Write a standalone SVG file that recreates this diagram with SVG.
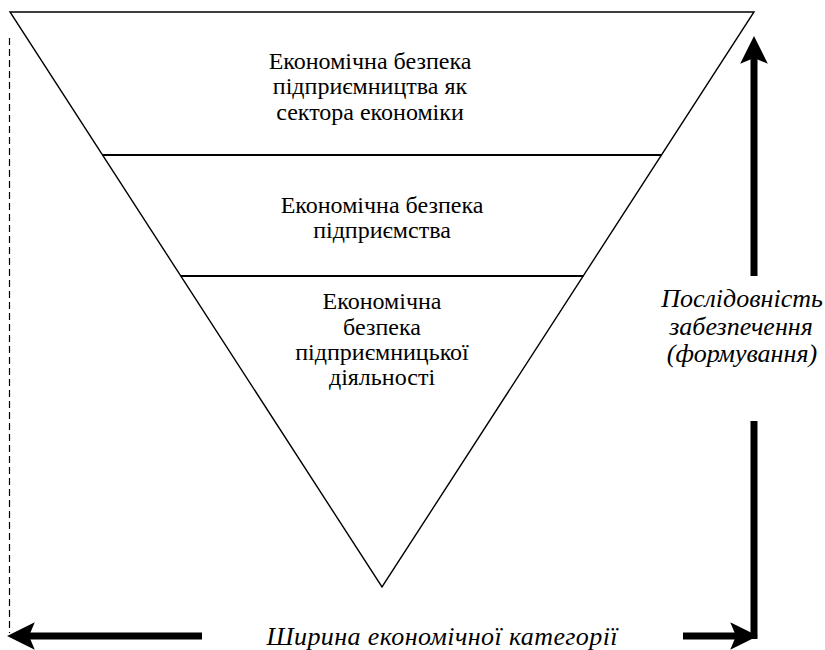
<svg xmlns="http://www.w3.org/2000/svg" width="825" height="650" viewBox="0 0 825 650">
<style>
.edge{fill:none;stroke:#000;stroke-width:1.4}
.div{stroke:#000;stroke-width:1.8}
.arr{stroke:#000;stroke-width:7;fill:none}
.dash{stroke:#000;stroke-width:1.2;stroke-dasharray:7 4;fill:none}
</style>
<defs>
<marker id="ah" markerUnits="userSpaceOnUse" orient="auto" refX="0" refY="0" markerWidth="30" markerHeight="30" viewBox="-6 -13 26 26" overflow="visible">
<path d="M19,0 L-5,-12 L0,0 L-5,12 Z" fill="#000"/>
</marker>
</defs>
<rect width="825" height="650" fill="#fff"/>
<g id="pyramid">
<polygon class="edge" points="10,12 754,12 382,587"/>
<line class="div" x1="102.5" y1="155" x2="661.5" y2="155"/>
<line class="div" x1="180.8" y1="276" x2="583.2" y2="276"/>
</g>
<g id="level1" font-family="'Liberation Serif', serif" font-size="24" fill="#000" text-anchor="middle">
<text x="370" y="69">Економічна безпека</text>
<text x="370" y="94">підприємництва як</text>
<text x="370" y="120">сектора економіки</text>
</g>
<g id="level2" font-family="'Liberation Serif', serif" font-size="24" fill="#000" text-anchor="middle">
<text x="382" y="213">Економічна безпека</text>
<text x="382" y="238">підприємства</text>
</g>
<g id="level3" font-family="'Liberation Serif', serif" font-size="24" fill="#000" text-anchor="middle">
<text x="382" y="309">Економічна</text>
<text x="382" y="335">безпека</text>
<text x="382" y="360">підприємницької</text>
<text x="382" y="385">діяльності</text>
</g>
<g id="connectors">
<line class="dash" x1="9.5" y1="38" x2="9.5" y2="633"/>
<line class="arr" x1="754" y1="276" x2="754" y2="58" marker-end="url(#ah)"/>
<line class="arr" x1="754" y1="421" x2="754" y2="639"/>
<line class="arr" x1="683" y1="636" x2="736" y2="636" marker-end="url(#ah)"/>
<line class="arr" x1="202" y1="636" x2="29" y2="636" marker-end="url(#ah)"/>
</g>
<g id="label-sequence" font-family="'Liberation Serif', serif" font-size="26" font-style="italic" fill="#000" text-anchor="middle">
<text x="742" y="307">Послідовність</text>
<text x="741" y="335">забезпечення</text>
<text x="742" y="362">(формування)</text>
</g>
<g id="label-width" font-family="'Liberation Serif', serif" font-size="26" font-style="italic" fill="#000" text-anchor="middle">
<text x="442" y="645" textLength="351">Ширина економічної категорії</text>
</g>
</svg>
